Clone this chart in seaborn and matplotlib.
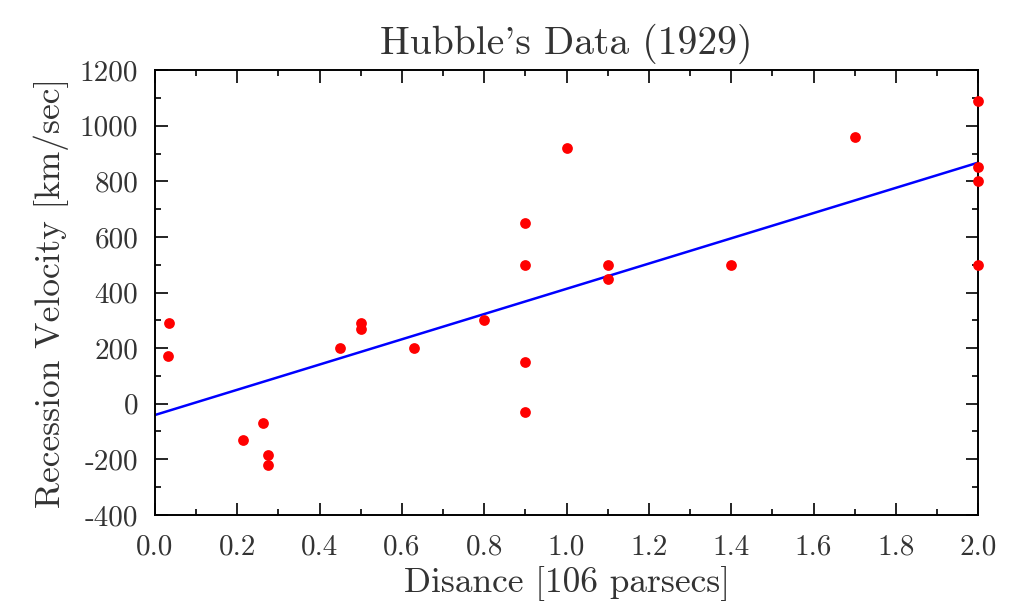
import numpy as np
import pandas as pd
import matplotlib
matplotlib.use("Agg")
import matplotlib.pyplot as plt
from matplotlib.ticker import MultipleLocator
import seaborn as sns

# Hubble (1929): distance [Mpc] and recession velocity [km/s]
distance = [0.032, 0.034, 0.214, 0.263, 0.275, 0.275, 0.45, 0.5, 0.5, 0.63,
            0.8, 0.9, 0.9, 0.9, 0.9, 1.0, 1.1, 1.1, 1.4, 1.7,
            2.0, 2.0, 2.0, 2.0]
velocity = [170, 290, -130, -70, -185, -220, 200, 290, 270, 200,
            300, -30, 650, 150, 500, 920, 450, 500, 500, 960,
            500, 850, 800, 1090]

df = pd.DataFrame({"distance": distance, "velocity": velocity})

sns.set_style("ticks")
plt.rcParams["font.family"] = ["cmr10", "DejaVu Serif"]
plt.rcParams["axes.unicode_minus"] = False
plt.rcParams["axes.formatter.use_mathtext"] = True

fig = plt.figure(figsize=(10.19, 6.05), dpi=100)
ax = fig.add_axes([0.152, 0.149, 0.808, 0.735])
ax.set_xlim(0, 2)
ax.set_ylim(-400, 1200)

sns.regplot(data=df, x="distance", y="velocity", ax=ax, ci=None, truncate=False,
            scatter_kws={"color": "#ff0000", "s": 60, "clip_on": False, "zorder": 5,
                         "linewidths": 0, "alpha": 1},
            line_kws={"color": "#0000ff", "lw": 1.8})

ax.set_xlim(0, 2)
ax.set_ylim(-400, 1200)
ax.xaxis.set_major_locator(MultipleLocator(0.2))
ax.xaxis.set_minor_locator(MultipleLocator(0.1))
ax.yaxis.set_major_locator(MultipleLocator(200))
ax.yaxis.set_minor_locator(MultipleLocator(100))
ax.xaxis.set_major_formatter(lambda v, p: "%.1f" % v)
ax.yaxis.set_major_formatter(lambda v, p: "%d" % round(v))

for s in ax.spines.values():
    s.set_visible(True)
    s.set_linewidth(1.4)
    s.set_color("black")

txt = "#333333"
ax.tick_params(which="both", direction="in", top=True, right=True, color="black",
               labelcolor=txt, labelsize=21)
ax.tick_params(which="major", length=9, width=1.2)
ax.tick_params(axis="x", which="major", pad=14)
ax.tick_params(axis="y", which="major", pad=12)
ax.tick_params(which="minor", length=4.5, width=1.2)

ax.set_xlabel("Disance [106 parsecs]", fontsize=25.5, color=txt, labelpad=4)
ax.set_ylabel("Recession Velocity [km/sec]", fontsize=25.5, color=txt, labelpad=8)
ax.set_title("Hubble's Data (1929)", fontsize=28.5, color=txt, pad=12)

fig.savefig("out.png", dpi=100)
